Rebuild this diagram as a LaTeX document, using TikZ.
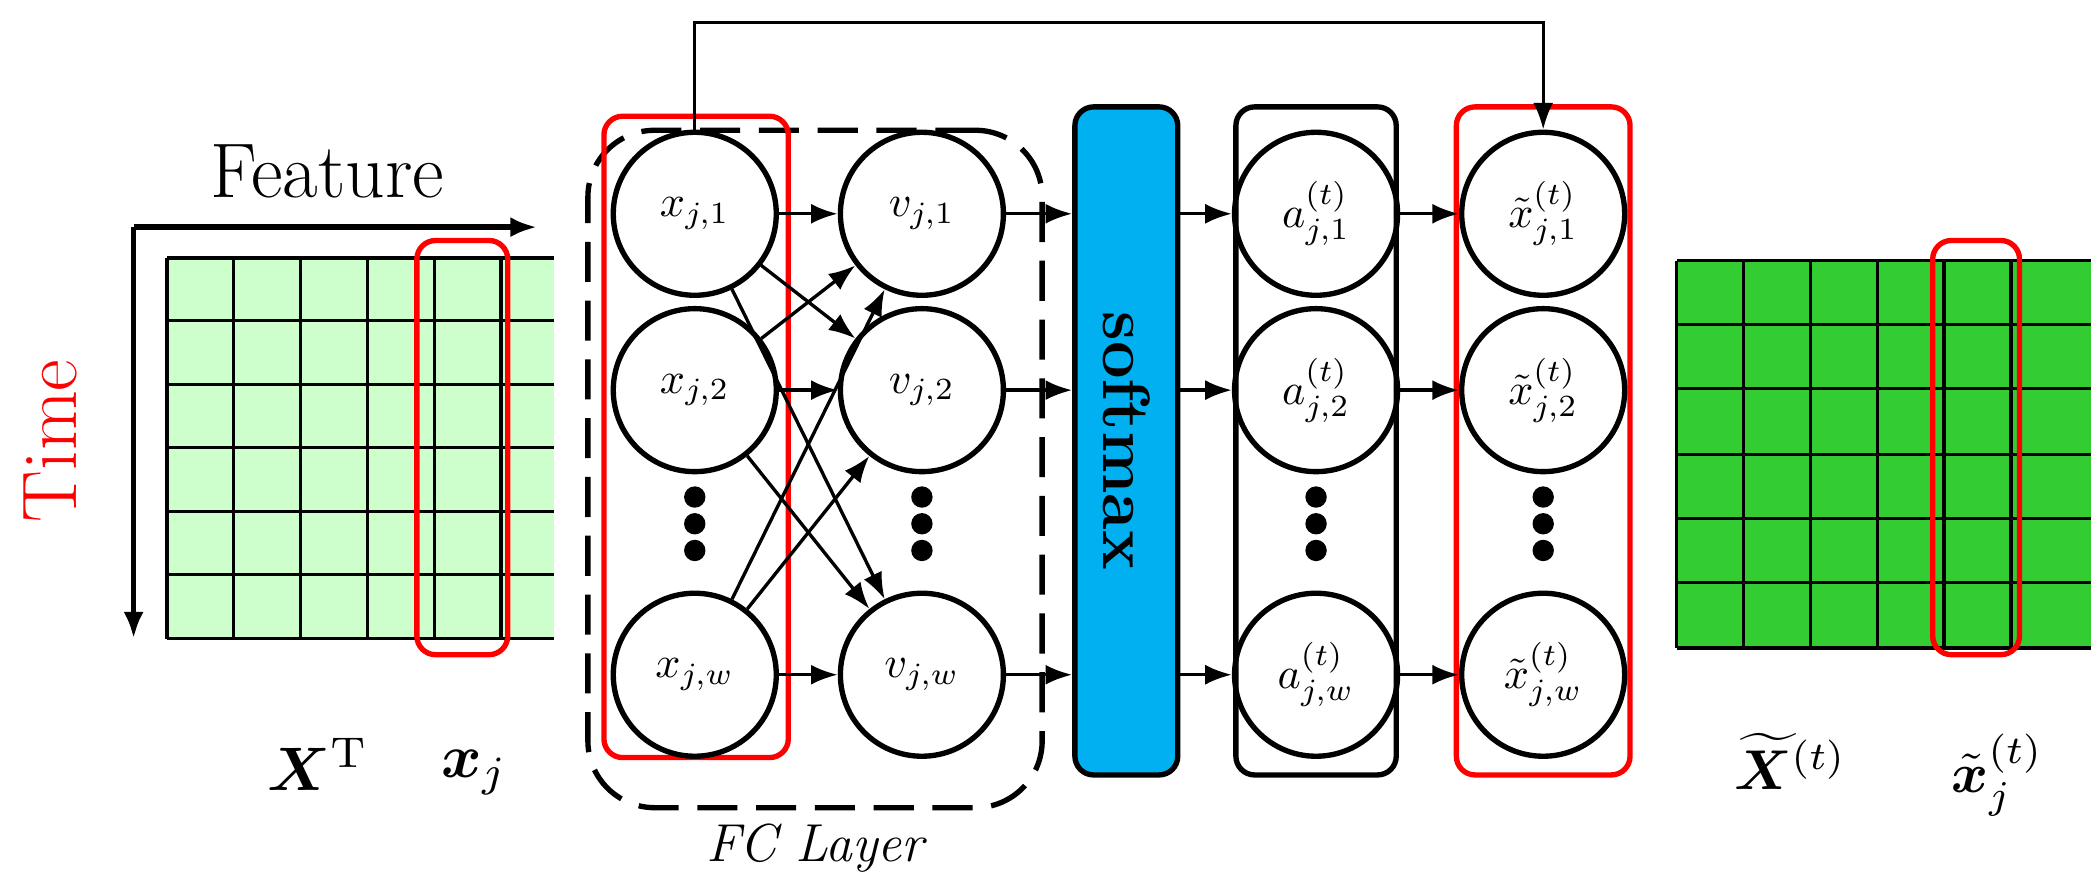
\documentclass[tikz,border=0pt]{standalone}
\usepackage{amsmath,bm,graphicx}
\usetikzlibrary{arrows.meta}
\definecolor{lg}{HTML}{CCFFCC}
\definecolor{dg}{HTML}{33CC33}
\definecolor{sb}{HTML}{00B0F0}
\newcommand{\cm}[1]{\scalebox{3.3}{$#1$}}
\newcommand{\bmth}[1]{\scalebox{4.6}{$#1$}}
\begin{document}
\begin{tikzpicture}[x=1pt,y=-1pt,
 cir/.style={circle,draw,line width=4pt,minimum size=122pt,inner sep=0pt},
 ar/.style={-{Latex[length=20pt,width=15pt]},line width=2.5pt},
 redb/.style={draw=red,line width=4pt,rounded corners=14pt},
 blk/.style={draw,line width=4pt,rounded corners=14pt},
 dot/.style={circle,fill,inner sep=0pt,minimum size=16pt}]
\useasboundingbox (0,0) rectangle (1568,653);
% left grid
\fill[lg] (125,193) rectangle (415,478);
\foreach \x in {125,175,225,275,325,375} \draw[line width=2.5pt] (\x,193)--(\x,478);
\foreach \y in {193,240,288,335,383,430,478} \draw[line width=2.5pt] (125,\y)--(415,\y);
\node[redb,minimum width=68pt,minimum height=310pt] (rx) at (346,335) {};
\coordinate (o) at (100,170); \coordinate (fe) at (402,170); \coordinate (te) at (100,478);
\draw[ar,line width=4pt] (o)--(fe); \draw[ar,line width=4pt] (o)--(te);
\node[font=\fontsize{58}{60}\selectfont] (feat) at (245,128) {Feature};
\node[font=\fontsize{58}{60}\selectfont,text=red,rotate=90] (time) at (38,330) {Time};
\node (XT) at (238,572) {\bmth{\bm{X}^{\mathrm{T}}}};
\node (xj) at (355,578) {\bmth{\bm{x}_j}};
% FC
\node[draw,dashed,dash pattern=on 30pt off 14pt,line width=4pt,rounded corners=50pt,minimum width=340pt,minimum height=507pt] (fc) at (610,351) {};
\node[font=\itshape\fontsize{40}{44}\selectfont] (fcl) at (610,635) {FC Layer};
\node[redb,minimum width=138pt,minimum height=480pt] (rb1) at (521,327) {};
\node[cir] (x1) at (520,160) {\cm{x_{j,1}}};
\node[cir] (x2) at (520,292) {\cm{x_{j,2}}};
\node[cir] (xw) at (520,505) {\cm{x_{j,w}}};
\node[cir] (v1) at (690,160) {\cm{v_{j,1}}};
\node[cir] (v2) at (690,292) {\cm{v_{j,2}}};
\node[cir] (vw) at (690,505) {\cm{v_{j,w}}};
\node[blk,fill=sb,minimum width=77pt,minimum height=500pt] (sm) at (843,330) {};
\node[rotate=-90,font=\bfseries\fontsize{50}{54}\selectfont] (smt) at (843,330) {softmax};
\node[blk,minimum width=120pt,minimum height=500pt] (ab) at (985,330) {};
\node[cir] (a1) at (985,160) {\cm{a^{(t)}_{j,1}}};
\node[cir] (a2) at (985,292) {\cm{a^{(t)}_{j,2}}};
\node[cir] (aw) at (985,505) {\cm{a^{(t)}_{j,w}}};
\node[redb,minimum width=130pt,minimum height=500pt] (rb2) at (1155,330) {};
\node[cir] (t1) at (1155,160) {\cm{\tilde{x}^{(t)}_{j,1}}};
\node[cir] (t2) at (1155,292) {\cm{\tilde{x}^{(t)}_{j,2}}};
\node[cir] (tw) at (1155,505) {\cm{\tilde{x}^{(t)}_{j,w}}};
\foreach \c in {520,690,985,1155}{
 \node[dot] at (\c,372) {}; \node[dot] at (\c,392) {}; \node[dot] at (\c,412) {};}
\foreach \a in {x1,x2,xw} \foreach \b in {v1,v2,vw} \draw[ar] (\a)--(\b);
\foreach \v/\a/\t in {v1/a1/t1,v2/a2/t2,vw/aw/tw}{
 \draw[ar] (\v.east)--(\v.east-|sm.west);
 \draw[ar] (\a.west-|sm.east)--(\a.west);
 \draw[ar] (\a.east)--(\t.west);}
\draw[ar] (x1.north)--++(0,-80)-|(t1.north);
% right grid
\fill[dg] (1255,195) rectangle (1565,485);
\foreach \x in {1255,1305,1355,1405,1455,1505} \draw[line width=2.5pt] (\x,195)--(\x,485);
\foreach \y in {195,243,291,340,388,436,485} \draw[line width=2.5pt] (1255,\y)--(1565,\y);
\node[redb,minimum width=65pt,minimum height=310pt] (rx2) at (1479,335) {};
\node (Xt) at (1340,570) {\scalebox{4.2}{$\widetilde{\bm{X}}^{(t)}$}};
\node (xt) at (1495,580) {\scalebox{4.2}{$\tilde{\bm{x}}^{(t)}_j$}};
\end{tikzpicture}
\end{document}
